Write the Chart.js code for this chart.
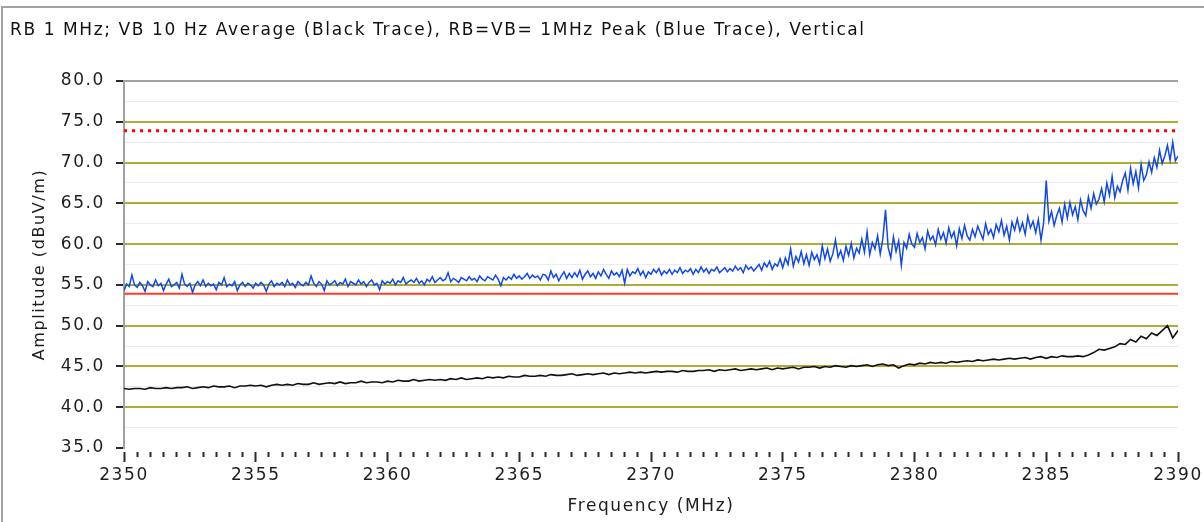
<!DOCTYPE html>
<html>
<head>
<meta charset="utf-8">
<title>Radiated emissions 2350-2390 MHz</title>
<script src="https://cdn.jsdelivr.net/npm/chart.js@4.4.1/dist/chart.umd.min.js"></script>
<style>
    html, body { margin: 0; padding: 0; background: #fff; }
    #wrap { position: relative; width: 1204px; height: 522px; overflow: hidden; }
    #frame {
        position: absolute; left: 1px; top: 6px; width: 1210px; height: 530px;
        border-left: 2px solid #a2a2a2; border-top: 2px solid #a2a2a2;
    }
    #plot { position: absolute; left: 0; top: 0; }
</style>
</head>
<body>
<div id="wrap">
    <div id="frame"></div>
    <canvas id="plot" width="1204" height="522"></canvas>
</div>
<script>
const TITLE = 'RB 1 MHz; VB 10 Hz Average (Black Trace), RB=VB= 1MHz Peak (Blue Trace), Vertical';

const FREQ_MIN = 2350;
const FREQ_MAX = 2390;
const AMP_MIN = 35;
const AMP_MAX = 80;

// peak trace: one reading every 0.1 MHz from 2350 MHz (dBuV/m)
const PEAK_STEP = 0.1;
const peakTrace = [
    54.3, 55.1, 54.8, 56.2, 55.0, 54.7, 55.3, 54.9, 54.2, 55.4,
    55.0, 54.8, 55.6, 54.9, 55.2, 54.3, 55.1, 55.7, 54.8, 55.0,
    55.3, 54.6, 56.3, 55.1, 54.8, 55.2, 54.1, 55.0, 55.4, 54.9,
    55.6, 54.8, 55.2, 54.9, 55.1, 54.4, 55.3, 55.0, 55.9, 54.8,
    55.1, 54.9, 55.4, 54.3, 55.0, 55.3, 54.8, 55.2, 55.0, 54.6,
    55.2, 54.9, 55.3, 55.0, 54.2, 55.1, 55.5, 54.8, 55.2, 55.0,
    55.3, 54.8, 55.6, 55.0, 55.2, 54.7, 55.4, 55.1, 54.9, 55.3,
    55.0, 56.1, 55.2, 54.8, 55.4, 55.1, 54.3, 55.5, 55.0, 55.2,
    55.5, 54.9, 55.3, 55.1, 55.7, 54.8, 55.4, 55.2, 55.0, 55.6,
    55.1, 55.4, 54.8, 55.3, 55.6, 55.0, 55.2, 54.4, 55.5, 55.1,
    55.4, 55.2, 55.7, 55.0, 55.5, 55.3, 55.9, 55.1, 55.4, 55.6,
    55.3, 55.8, 55.2, 55.5, 55.0, 55.7, 55.4, 56.0, 55.3, 55.6,
    55.9, 55.5, 55.7, 56.5, 55.4, 55.8, 55.6, 55.3, 55.9, 55.7,
    55.5, 56.0, 55.6, 55.8, 55.4, 56.1, 55.7, 55.5, 56.0, 55.8,
    55.6, 56.2, 55.7, 54.9, 55.9, 55.6, 56.0, 55.7, 56.3, 55.8,
    56.1, 55.7, 56.0, 56.4, 55.8, 56.2, 55.9, 56.1, 55.6, 56.3,
    56.2, 55.6, 56.7, 55.9, 56.3, 55.5, 56.1, 56.6, 55.8, 56.4,
    55.9, 56.5, 56.0, 56.8, 55.7, 56.3, 56.7, 56.0, 56.4, 55.8,
    56.6, 56.1, 56.9, 56.3, 55.8, 56.7, 56.2, 56.5, 56.0, 56.8,
    55.2, 56.9, 56.1, 56.6, 56.4, 57.0, 56.2, 56.7, 55.9, 56.6,
    56.3, 56.9, 56.5, 57.0, 56.2, 56.7, 56.4, 56.9, 56.3, 56.8,
    56.5, 57.1, 56.4, 56.8, 56.6, 57.0, 56.3, 56.9, 56.5, 57.2,
    56.6, 57.0, 56.4, 56.9, 56.7, 57.2, 56.5, 56.8, 57.1, 56.6,
    57.0, 56.7, 57.3, 56.8, 57.1, 56.5, 57.4, 56.9, 57.2, 56.7,
    57.1, 57.5, 56.8, 57.7, 57.2, 57.9, 56.9, 57.6, 57.3, 58.2,
    57.1, 58.3, 57.5, 59.4, 57.3, 58.5, 57.8, 59.1, 57.6, 58.7,
    57.4, 59.0, 58.1, 58.7, 57.6, 59.8, 58.2, 59.4, 57.9, 58.8,
    60.5, 58.4, 59.2, 58.0, 59.7, 58.6, 60.1, 58.3, 59.5, 58.9,
    60.6, 59.0, 61.5, 58.7, 60.2, 59.4, 61.0, 58.8, 60.7, 64.2,
    59.6, 58.3, 60.9, 59.1, 60.4, 57.4, 60.2, 59.5, 61.2, 60.0,
    59.6, 61.3, 60.2, 60.8, 59.4, 61.6, 60.5, 61.0, 59.9, 61.8,
    60.6, 61.4, 60.1, 62.0, 60.8, 61.5, 59.8, 61.9, 60.7, 62.3,
    61.0, 60.5, 61.8, 60.9, 62.2, 61.4, 60.6, 62.5, 61.2, 61.8,
    60.8, 62.4, 61.5, 62.9, 61.1, 62.2, 60.5, 62.7, 61.7, 63.1,
    61.6, 62.6, 61.2, 63.4, 62.0, 62.8, 61.4, 63.0, 60.5, 62.6,
    67.8, 62.8, 64.0, 62.3, 63.5, 64.4, 62.7, 64.9, 63.2, 65.1,
    63.6, 64.6, 63.0, 65.4, 64.1, 63.5, 65.8, 64.4, 66.2, 64.9,
    65.5, 66.8, 65.2, 67.5, 66.0, 68.3, 65.7, 67.1, 66.4, 67.8,
    68.7, 66.6, 69.3, 67.4, 68.9, 66.9, 69.8, 67.8, 68.5, 70.1,
    68.8, 70.6, 69.4, 71.5, 69.9, 70.8, 72.1, 70.3, 72.5, 70.2,
    70.8
];

// average trace: one reading every 0.2 MHz from 2350 MHz (dBuV/m)
const AVG_STEP = 0.2;
const avgTrace = [
    42.3, 42.2, 42.3, 42.3, 42.2, 42.4, 42.3, 42.3, 42.4, 42.3,
    42.4, 42.4, 42.5, 42.3, 42.4, 42.5, 42.4, 42.6, 42.5, 42.5,
    42.6, 42.4, 42.6, 42.6, 42.7, 42.6, 42.7, 42.5, 42.7, 42.8,
    42.7, 42.8, 42.7, 42.9, 42.8, 42.8, 43.0, 42.8, 42.9, 43.0,
    42.9, 43.1, 42.9, 43.0, 43.0, 43.2, 43.0, 43.1, 43.1, 43.0,
    43.2, 43.1, 43.3, 43.2, 43.2, 43.4, 43.2, 43.3, 43.4, 43.3,
    43.4, 43.3, 43.5, 43.4, 43.6, 43.4, 43.5, 43.6, 43.5, 43.7,
    43.6, 43.7, 43.6, 43.8, 43.7, 43.7, 43.9, 43.8, 43.8, 43.9,
    43.8, 44.0, 43.9, 43.9, 44.0, 44.1, 43.9, 44.0, 44.1, 44.0,
    44.1, 44.2, 44.0, 44.2, 44.1, 44.2, 44.3, 44.2, 44.3, 44.2,
    44.3, 44.4, 44.3, 44.4, 44.4, 44.3, 44.5, 44.4, 44.4, 44.5,
    44.5, 44.6, 44.4, 44.6, 44.5, 44.6, 44.7, 44.5, 44.6, 44.7,
    44.6, 44.7, 44.8, 44.6, 44.8, 44.7, 44.8, 44.9, 44.7, 44.9,
    44.9, 45.0, 44.8, 45.0, 44.9, 45.1, 45.0, 44.9, 45.1, 45.0,
    45.1, 45.2, 45.0, 45.2, 45.3, 45.1, 45.2, 44.8, 45.1, 45.3,
    45.2, 45.4, 45.3, 45.5, 45.4, 45.5, 45.4, 45.6, 45.5, 45.6,
    45.7, 45.6, 45.8, 45.7, 45.8, 45.9, 45.8, 45.9, 46.0, 45.9,
    46.0, 46.1, 45.9, 46.1, 46.2, 46.0, 46.2, 46.1, 46.3, 46.2,
    46.2, 46.3, 46.2, 46.4, 46.7, 47.1, 47.0, 47.2, 47.4, 47.8,
    47.7, 48.3, 48.0, 48.7, 48.4, 49.1, 48.8, 49.4, 50.0, 48.5,
    49.4
];

// limit lines (dBuV/m)
const PEAK_LIMIT = 73.9;
const AVG_LIMIT = 53.9;

const OLIVE = '#aeac34';
const FRAME_GREY = '#a2a2a2';

function toPoints(values, step) {
    return values.map((v, i) => ({ x: FREQ_MIN + i * step, y: v }));
}

function limitLine(level) {
    return [{ x: FREQ_MIN, y: level }, { x: FREQ_MAX, y: level }];
}

function isMajor(value, step) {
    return Math.abs(value / step - Math.round(value / step)) < 1e-6;
}

// the analyser font is set wide; spread the glyphs a little
const wideText = {
    id: 'wideText',
    beforeUpdate(chart) { chart.ctx.letterSpacing = '1.6px'; },
    beforeDraw(chart) { chart.ctx.letterSpacing = '1.6px'; }
};

Chart.defaults.font.family = '"DejaVu Sans", Verdana, sans-serif';
Chart.defaults.color = '#1e1e1e';

const ctx = document.getElementById('plot').getContext('2d');
new Chart(ctx, {
    type: 'line',
    data: {
        datasets: [
            {
                label: 'Average',
                data: toPoints(avgTrace, AVG_STEP),
                borderColor: '#111111',
                borderWidth: 1.6,
                pointRadius: 0,
                tension: 0
            },
            {
                label: 'Peak',
                data: toPoints(peakTrace, PEAK_STEP),
                borderColor: '#1248e8',
                borderWidth: 1.5,
                pointRadius: 0,
                tension: 0
            },
            {
                label: 'Average limit',
                data: limitLine(AVG_LIMIT),
                borderColor: '#ff3b2a',
                borderWidth: 2,
                pointRadius: 0
            },
            {
                label: 'Peak limit',
                data: limitLine(PEAK_LIMIT),
                borderColor: '#ff0000',
                borderWidth: 3,
                borderDash: [3, 5],
                borderCapStyle: 'butt',
                pointRadius: 0
            }
        ]
    },
    options: {
        responsive: false,
        animation: false,
        devicePixelRatio: 1,
        events: [],
        layout: { padding: { left: 10, right: 26, top: 0, bottom: 0 } },
        plugins: {
            legend: { display: false },
            tooltip: { enabled: false },
            title: {
                display: true,
                text: TITLE,
                align: 'start',
                color: '#111',
                font: { size: 17, weight: 'normal' },
                padding: { top: 20, bottom: 40.6 }
            }
        },
        scales: {
            x: {
                type: 'linear',
                min: FREQ_MIN,
                max: FREQ_MAX,
                border: { display: false },
                grid: {
                    drawOnChartArea: false,
                    drawTicks: true,
                    tickLength: 14,
                    tickWidth: 2,
                    tickColor: '#2a2a2a',
                    tickBorderDash: c => isMajor(c.tick.value, 5) ? [0, 4, 10, 20] : [0, 4, 5, 20]
                },
                ticks: {
                    stepSize: 0.5,
                    autoSkip: false,
                    maxRotation: 0,
                    padding: 3,
                    font: { size: 17 },
                    callback: v => isMajor(v, 5) ? String(Math.round(v)) : ''
                },
                title: {
                    display: true,
                    text: 'Frequency (MHz)',
                    font: { size: 17 },
                    padding: { top: 0, bottom: 5 }
                },
                afterFit: s => {
                    s.height = 74;
                    s.paddingLeft = 0;
                    s.paddingRight = 0;
                }
            },
            y: {
                min: AMP_MIN,
                max: AMP_MAX,
                border: { display: true, color: FRAME_GREY, width: 2 },
                grid: {
                    color: c => {
                        const v = c.tick.value;
                        if (v === AMP_MAX) return FRAME_GREY;
                        if (v === AMP_MIN) return 'rgba(0,0,0,0)';
                        return isMajor(v, 5) ? OLIVE : '#ececec';
                    },
                    lineWidth: c => isMajor(c.tick.value, 5) ? 2 : 1,
                    tickLength: 11,
                    tickWidth: 2,
                    tickColor: c => isMajor(c.tick.value, 5) ? '#2a2a2a' : 'rgba(0,0,0,0)',
                    tickBorderDash: [0, 3, 8, 20]
                },
                ticks: {
                    stepSize: 2.5,
                    autoSkip: false,
                    padding: 8,
                    font: { size: 17 },
                    callback: v => isMajor(v, 5) ? v.toFixed(1) : ''
                },
                title: {
                    display: true,
                    text: 'Amplitude (dBuV/m)',
                    font: { size: 16 },
                    padding: { top: 20, bottom: 0 }
                },
                afterFit: s => { s.width = 114; }
            }
        }
    },
    plugins: [wideText]
});
</script>
</body>
</html>
